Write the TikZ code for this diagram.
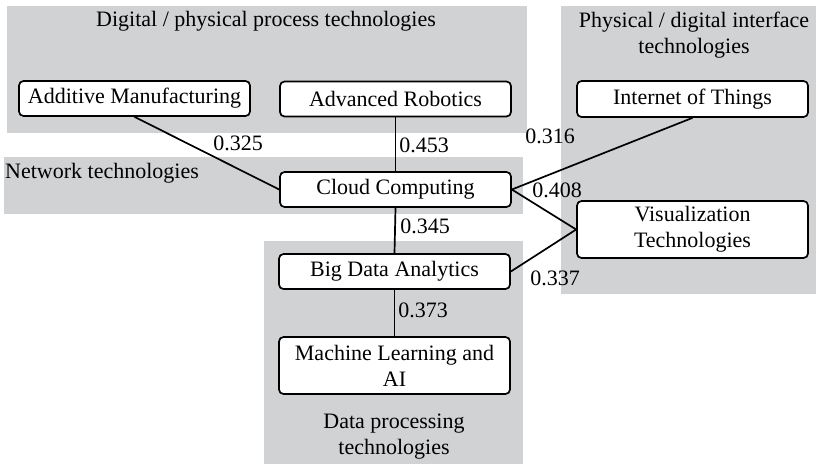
\documentclass[tikz,border=0pt]{standalone}
\usepackage{fontspec}
\setmainfont{Liberation Serif}
\definecolor{grp}{RGB}{208,210,211}
\begin{document}
\begin{tikzpicture}[x=1pt,y=-1pt,
  every node/.style={font=\fontsize{22}{26}\selectfont},
  tbox/.style={draw=black,line width=1.7pt,fill=white,rounded corners=4.5pt,minimum width=231pt,inner sep=0pt,align=center},
  lbl/.style={inner sep=0pt,anchor=center},
  edge/.style={line width=1.7pt}]
\useasboundingbox (0,0) rectangle (816,464);
% groups
\fill[grp] (7,6) rectangle (527,133);
\fill[grp] (561,6) rectangle (816,294);
\fill[grp] (4,157) rectangle (523,214);
\fill[grp] (264,241) rectangle (523,464);
% group titles
\node[lbl] (t1) at (266,21) {Digital / physical process technologies};
\node[lbl,align=center] (t2) at (694,35) {Physical / digital interface\\technologies};
\node[lbl,anchor=west] (t3) at (5,173) {Network technologies};
\node[lbl,align=center] (t4) at (394,437) {Data processing\\technologies};
% nodes
\node[tbox,minimum height=35pt] (add) at (134.5,98.5) {Additive Manufacturing};
\node[tbox,minimum height=35pt] (rob) at (395.5,99) {Advanced Robotics};
\node[tbox,minimum height=35pt] (cloud) at (395.5,189.5) {Cloud Computing};
\node[tbox,minimum height=36pt] (iot) at (692.5,99) {Internet of Things};
\node[tbox,minimum height=57pt] (viz) at (692.5,229.5) {Visualization\\Technologies};
\node[tbox,minimum height=35pt] (big) at (394.5,271.5) {Big Data Analytics};
\node[tbox,minimum height=57pt] (ml) at (394.5,365.5) {Machine Learning and\\AI};
% edges
\draw[edge] (add.south) -- (cloud.west);
\draw[edge] (rob.south) -- (cloud.north);
\draw[edge] (cloud.east) -- (iot.south);
\draw[edge] (cloud.east) -- (viz.west);
\draw[edge] (big.east) -- (viz.west);
\draw[edge] (cloud.south) -- (big.north);
\draw[edge] (big.south) -- (ml.north);
% weights
\node[lbl] (w1) at (238,143) {0.325};
\node[lbl] (w2) at (424,145) {0.453};
\node[lbl] (w3) at (550,136) {0.316};
\node[lbl] (w4) at (557,190) {0.408};
\node[lbl] (w5) at (555,278) {0.337};
\node[lbl] (w6) at (425,226) {0.345};
\node[lbl] (w7) at (423,310) {0.373};
\end{tikzpicture}
\end{document}
